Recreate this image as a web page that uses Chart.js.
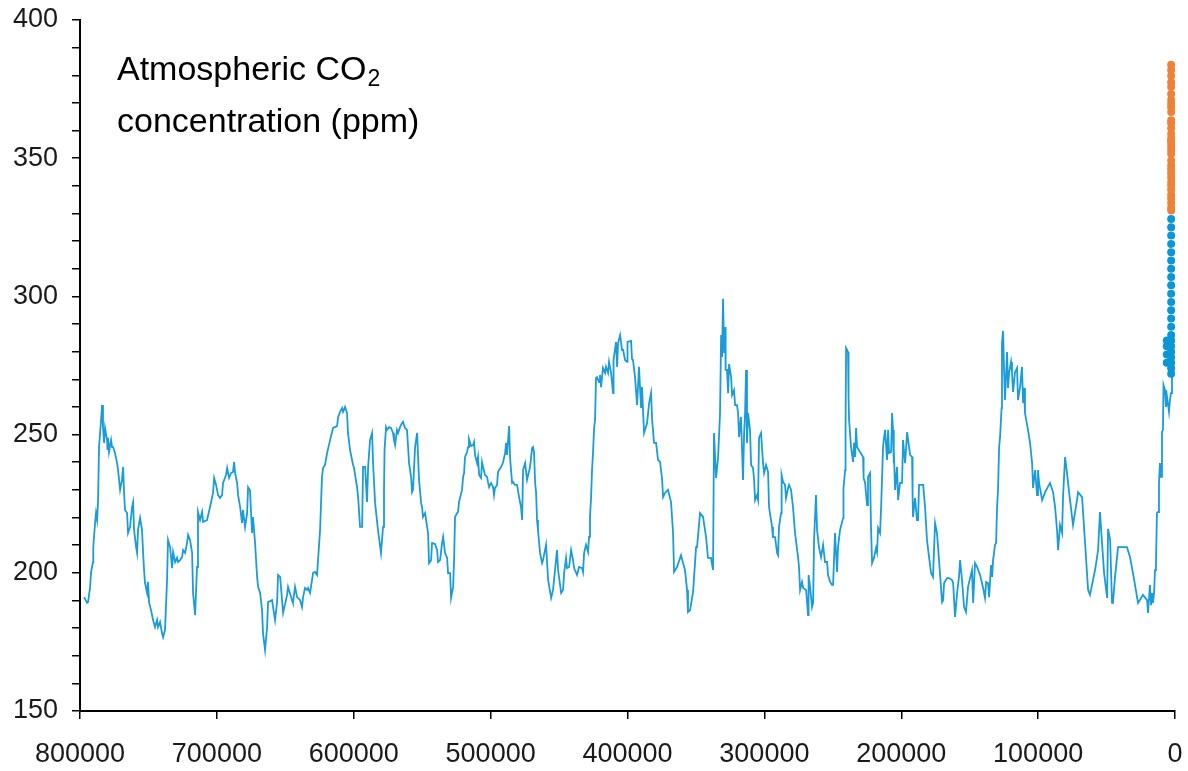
<!DOCTYPE html>
<html>
<head>
<meta charset="utf-8">
<script src="https://cdn.jsdelivr.net/npm/chart.js@4.4.1/dist/chart.umd.min.js"></script>
<style>
  body { margin: 0; background: #fff; }
  #wrap { position: relative; width: 1188px; height: 771px; }
  #title {
    position: absolute; left: 117px; top: 44px;
    font-family: "Liberation Sans", Arial, sans-serif;
    font-size: 34px; line-height: 48px; color: #000;
  }
  #title span { font-size: 23px; position: relative; top: 6px; margin-left: 1px; }
</style>
</head>
<body>
<div id="wrap">
  <canvas id="co2Chart" width="1188" height="771"></canvas>
  <div id="title">Atmospheric CO<span>2</span><br>concentration (ppm)</div>
</div>
<script>
// ice core record: age in thousand years before present, CO2 in ppm
var iceAgeKyr = [
  797.0,794.8,794.1,792.6,791.9,790.5,790.3,789.0,788.3,787.5,
  786.8,786.1,784.6,783.9,783.2,782.4,781.7,780.2,779.9,779.5,
  778.8,777.3,776.6,775.8,774.4,772.9,772.2,770.7,769.3,768.5,
  767.8,767.1,765.6,764.9,763.4,762.0,761.2,760.5,759.0,758.3,
  757.6,756.1,754.7,753.9,753.2,752.5,751.0,750.3,749.5,748.1,
  746.6,745.2,743.7,743.0,741.5,740.1,739.3,737.9,736.4,735.7,
  734.2,732.7,732.0,730.5,729.1,728.4,726.9,725.4,724.7,723.2,
  721.8,721.0,719.6,718.1,717.4,715.9,714.5,713.8,712.3,710.8,
  710.1,707.2,705.0,702.8,702.0,700.6,699.1,697.7,696.2,695.5,
  693.3,692.5,691.1,689.6,688.2,687.4,686.7,685.2,684.5,683.0,
  681.6,680.9,679.4,677.9,677.2,675.8,674.3,673.6,672.1,670.6,
  669.9,668.4,667.0,666.3,664.8,
  663.3,662.6,659.7,657.5,656.0,655.3,653.8,651.6,648.7,648.0,
  645.1,644.4,642.9,641.4,639.2,637.8,637.0,635.6,634.1,633.4,
  631.9,629.7,628.3,626.8,626.1,624.6,623.2,622.4,621.0,619.5,
  617.3,615.1,612.2,611.4,610.0,608.5,607.8,606.3,604.9,604.2,
  602.7,600.5,599.8,597.6,596.8,595.4,593.9,593.2,591.7,590.3,
  589.5,588.1,586.6,585.9,584.4,582.3,580.1,578.6,577.9,577.5,
  576.4,575.7,574.2,572.8,571.3,570.6,569.8,568.4,567.6,566.2,
  564.7,564.0,562.5,561.1,560.3,559.6,558.1,557.4,556.7,555.2,
  553.7,553.0,552.3,550.8,550.1,549.4,547.9,546.4,545.7,545.0,
  543.5,542.8,540.6,539.1,538.4,536.9,535.5,534.7,
  533.3,531.8,531.1,529.6,528.9,527.4,526.7,526.0,524.5,523.8,
  523.1,520.9,520.1,519.4,518.7,517.2,516.5,515.8,514.3,512.8,
  512.1,511.4,509.9,509.2,508.4,507.0,506.3,505.5,504.1,502.6,
  501.9,501.1,499.7,498.2,497.5,496.8,495.3,494.6,493.8,492.4,
  491.6,490.9,489.4,488.7,488.0,486.5,485.8,485.1,484.3,483.6,
  482.2,480.7,479.2,477.8,477.0,476.3,474.8,473.4,472.7,471.2,
  469.7,469.0,468.3,467.5,466.8,466.1,465.4,463.9,462.4,461.7,
  459.5,458.0,455.8,454.4,451.5,450.7,448.5,447.1,446.3,444.9,
  444.2,442.7,441.2,439.8,439.0,436.9,435.4,433.2,432.5,431.7,
  430.3,428.8,428.1,427.4,426.6,425.9,425.2,424.4,423.7,423.0,
  422.2,420.8,420.1,419.3,417.9,416.4,415.7,414.2,413.5,412.0,
  410.5,410.2,408.4,407.6,406.9,405.4,404.0,
  403.2,401.8,400.3,400.0,397.4,396.7,396.0,394.5,393.0,391.6,
  390.1,389.4,387.9,385.7,384.2,382.8,382.0,380.6,379.1,377.7,
  376.2,374.7,374.0,372.6,370.4,368.2,366.7,366.0,363.8,360.9,
  359.4,358.0,356.5,355.8,354.3,352.1,349.9,349.2,347.0,344.8,
  342.6,341.2,339.0,337.5,336.8,335.3,333.8,332.4,331.6,330.9,
  330.2,329.4,328.7,328.3,327.3,326.5,325.8,324.3,323.6,322.2,
  321.4,320.0,319.2,318.5,317.1,315.6,314.8,314.1,313.4,312.7,
  311.9,310.5,309.7,308.3,307.5,306.8,305.4,304.6,303.9,302.4,
  301.0,300.2,298.8,297.3,296.6,294.4,293.7,292.2,290.7,290.0,
  289.3,287.8,287.4,286.3,284.9,284.2,282.7,282.0,280.5,279.1,
  277.6,275.4,274.7,273.9,272.5,271.7,269.5,
  268.1,267.7,266.6,265.2,264.4,263.7,262.3,261.5,260.1,258.6,
  257.1,255.7,254.2,253.5,252.0,250.6,249.8,248.4,246.9,246.2,
  244.7,242.5,242.2,241.0,240.7,240.3,238.9,238.5,238.1,236.7,
  235.2,234.5,233.7,233.0,232.3,230.1,227.9,227.5,226.4,225.0,
  224.3,222.8,222.1,221.3,219.9,218.4,217.7,216.9,215.5,214.7,
  213.3,212.6,211.8,210.4,209.6,208.9,207.4,206.7,206.0,205.6,
  205.3,204.5,203.1,202.3,200.9,199.4,198.7,197.2,195.7,194.3,
  193.5,192.1,191.7,191.4,189.9,188.5,187.7,187.0,184.0,182.6,
  181.2,179.7,178.2,176.8,175.3,173.9,173.1,171.7,170.2,169.4,
  168.7,166.5,165.0,162.9,162.1,160.7,159.2,157.8,157.0,155.6,
  154.1,152.7,151.2,148.3,147.5,146.1,144.6,142.4,
  140.2,138.8,138.0,136.6,135.8,134.4,133.6,132.9,131.5,130.7,
  130.0,129.3,128.5,127.8,126.7,126.4,125.6,124.9,124.2,122.7,
  122.0,121.2,119.8,119.1,118.3,116.9,115.4,114.7,113.2,111.8,
  111.0,110.3,109.6,107.4,105.9,104.4,103.7,102.2,100.8,100.1,
  99.3,97.1,94.9,91.3,89.1,87.6,86.2,85.4,84.0,82.5,
  81.8,80.3,78.9,76.7,74.5,71.6,70.8,67.9,65.7,63.5,
  62.1,58.4,56.2,54.8,53.3,51.8,49.6,48.9,47.4,46.0,
  45.3,43.8,41.6,35.1,32.9,30.7,27.0,23.4,20.4,19.7,
  18.3,17.5,16.8,16.1,15.3,14.6,13.9,13.2,12.4,11.7,
  11.0,10.2,9.5,8.8,8.4,7.3,6.6,5.8,4.4,3.7,
  2.9,2.2
];
var iceCo2 = [
  191.2,189.1,189.4,194.9,200.3,203.9,209.3,218.0,221.6,219.1,
  226.3,245.5,255.3,260.7,252.7,247.0,252.4,248.0,244.4,248.8,
  243.7,248.0,245.5,245.5,243.3,239.7,237.2,230.0,233.6,238.3,
  228.9,222.7,221.6,214.4,216.6,223.8,225.6,215.5,209.3,207.2,
  215.5,219.8,215.5,207.2,201.0,196.3,192.7,196.7,189.1,186.5,
  182.9,180.4,182.9,180.4,182.2,178.2,176.7,179.3,197.4,211.9,
  209.3,201.7,207.5,203.9,205.4,203.9,204.6,205.7,208.2,207.2,
  210.8,213.7,211.9,207.2,192.7,184.7,202.1,222.0,219.1,222.0,
  218.4,219.1,223.8,228.9,234.3,231.8,228.1,227.1,228.1,232.5,
  235.4,237.9,234.3,236.1,236.5,240.1,236.1,232.5,228.1,223.8,
  218.0,222.7,216.6,221.6,231.0,229.9,214.4,220.2,210.8,198.5,
  194.9,192.7,186.5,178.2,172.1,
  180.4,189.4,190.1,182.9,189.4,199.2,198.5,185.5,192.0,194.9,
  190.1,189.1,194.9,191.2,190.1,187.6,191.2,194.5,193.8,194.5,
  192.7,200.0,200.3,199.2,204.6,215.5,234.7,237.9,239.0,243.3,
  248.0,252.4,253.1,256.4,258.2,259.6,258.2,260.0,257.8,250.6,
  244.4,239.0,237.9,231.0,227.4,216.6,216.6,238.3,238.3,225.6,
  238.3,248.0,250.6,239.7,225.2,215.5,207.2,216.6,230.0,244.4,
  252.7,251.7,252.7,252.4,250.6,248.0,246.2,251.7,250.6,252.7,
  254.2,254.6,252.4,251.7,245.5,239.7,234.7,229.2,230.0,245.5,
  250.6,241.9,233.6,225.2,223.8,220.2,221.6,216.6,214.4,203.5,
  204.6,210.8,210.4,208.2,203.9,204.6,210.8,213.0,
  207.2,205.4,199.9,199.9,190.9,194.9,204.6,220.2,221.6,222.0,
  225.6,230.0,234.7,236.1,241.9,243.7,245.5,248.4,245.9,246.2,
  247.3,242.6,239.7,241.9,235.4,234.3,240.1,238.3,235.4,234.7,
  232.8,231.0,232.5,231.0,228.1,230.7,231.8,236.5,237.2,238.3,
  239.0,240.1,243.3,247.0,242.6,253.1,241.9,237.2,232.5,232.8,
  231.8,231.8,227.4,223.8,219.1,237.2,239.7,233.6,233.6,238.3,
  245.2,245.5,243.7,232.5,229.2,219.1,215.5,207.2,203.5,204.6,
  210.1,197.4,190.9,193.8,208.2,201.0,192.7,193.8,199.9,205.4,
  201.7,202.1,208.2,204.6,201.7,199.2,202.1,201.7,200.3,207.2,
  210.1,207.5,213.0,220.2,227.4,237.2,243.3,252.4,255.3,270.5,
  270.8,269.0,271.6,267.2,274.1,272.3,274.5,272.3,276.3,272.3,
  265.0,277.0,283.5,274.5,283.1,286.0,280.6,
  280.6,277.0,276.3,283.5,283.9,277.3,277.0,270.8,260.7,274.5,
  259.6,267.2,250.6,254.2,261.4,265.0,255.3,247.0,247.0,240.8,
  240.1,233.6,227.4,228.9,230.0,225.6,214.4,200.3,202.1,206.4,
  203.5,201.0,193.8,185.8,186.5,193.1,209.3,209.3,221.6,220.2,
  212.9,205.4,205.4,201.0,250.6,234.3,241.9,257.8,286.0,278.1,
  299.1,279.5,288.9,273.4,273.4,265.0,275.5,270.8,264.3,266.1,
  260.7,260.7,257.8,249.1,256.4,233.6,250.6,257.8,273.4,247.0,
  257.8,251.7,239.0,237.9,233.6,226.3,228.1,226.3,248.8,250.6,
  239.7,236.1,239.0,236.5,223.8,216.6,212.9,212.9,207.2,206.4,
  216.6,221.6,235.4,232.8,231.8,227.1,230.7,231.8,230.0,223.8,
  214.4,205.7,202.1,193.8,196.7,194.5,193.8,
  184.7,199.2,194.9,187.6,189.1,211.9,228.1,215.5,209.3,205.7,
  210.1,203.9,203.9,199.2,196.7,195.6,195.6,214.4,200.3,209.3,
  215.5,219.8,230.7,237.2,251.7,281.3,279.9,263.6,255.3,245.5,
  240.1,247.0,241.9,252.4,245.5,243.7,241.9,234.3,232.5,224.5,
  234.7,236.1,216.6,203.5,205.4,209.0,207.5,216.2,214.4,223.8,
  245.5,248.8,251.7,240.8,251.7,243.3,243.7,257.8,251.7,239.7,
  244.4,230.0,238.3,226.3,232.5,232.5,248.0,239.7,250.9,245.5,
  242.6,241.9,227.1,220.2,227.1,219.1,219.1,231.8,231.8,223.8,
  211.9,205.7,199.9,198.5,218.0,214.4,209.3,199.9,189.4,190.1,
  196.3,198.1,198.1,197.4,196.3,184.0,192.7,198.5,204.6,197.4,
  187.6,185.8,194.9,201.0,189.1,203.5,202.1,199.2,
  194.5,190.9,196.7,196.3,191.2,202.8,198.5,204.6,210.1,210.8,
  223.8,230.0,245.5,249.1,259.6,283.1,287.5,273.4,262.5,279.9,
  266.9,272.3,276.3,272.6,265.4,272.6,274.1,262.5,267.2,274.5,
  261.4,266.9,257.8,251.7,247.0,239.7,230.7,237.2,228.1,237.2,
  232.5,226.3,229.2,232.5,229.2,223.8,215.5,208.2,217.3,214.4,
  227.4,241.9,236.1,226.3,217.3,226.3,229.2,227.4,210.8,193.8,
  192.0,201.0,208.2,222.0,210.8,199.9,190.9,215.9,211.9,189.1,
  189.4,198.5,209.3,209.3,205.7,199.9,189.1,192.0,190.1,185.5,
  195.6,188.3,192.7,189.1,192.7,201.0,203.5,221.6,222.0,232.5,
  239.7,234.7,251.0,251.7,268.0,266.1,260.0,263.6,258.2,262.5,
  265.0,270.8
];

// recent ice core dots (blue) and direct measurements (orange)
var recentAgeKyr = [6.0, 6.0, 6.0, 6.0,
  2.8,2.8,2.8,2.8,2.8,2.8,2.8,2.8,2.8,2.8,2.8,2.8,2.8,2.8,2.8,2.8,2.8,2.8,2.8,2.8,2.8,2.8];
var recentCo2 = [276, 279, 282, 284,
  272,274,276,278,280,282,284,286,289,292,295,298,301,304,307,310,313,316,319,322,325,328];
var directAgeKyr = 2.8;
var directCo2 = [331.1,332.1,333.8,335.4,336.8,338.7,340.1,341.4,343.0,344.6,346.0,
  347.4,349.2,351.6,353.1,354.4,355.6,356.4,357.1,358.8,360.8,362.6,363.7,
  366.7,368.4,369.6,371.1,373.2,375.8,377.5,379.8,381.9,383.8];

var xTicks = [0, 100000, 200000, 300000, 400000, 500000, 600000, 700000, 800000];
var yLabelled = [150, 200, 250, 300, 350, 400];

if (iceAgeKyr.length !== iceCo2.length) console.log('length mismatch', iceAgeKyr.length, iceCo2.length);

var icePoints = [];
for (var i = 0; i < iceAgeKyr.length; i++) {
  icePoints.push({ x: iceAgeKyr[i] * 1000, y: iceCo2[i] });
}
var recentPoints = [];
for (var j = 0; j < recentCo2.length; j++) {
  recentPoints.push({ x: recentAgeKyr[j] * 1000, y: recentCo2[j] });
}
var directPoints = [];
for (var k = 0; k < directCo2.length; k++) {
  directPoints.push({ x: directAgeKyr * 1000, y: directCo2[k] });
}

var tickFont = { family: '"Liberation Sans", Arial, sans-serif', size: 27 };

var config = {
  type: 'line',
  data: {
    datasets: [{
      data: directPoints,
      showLine: false,
      pointRadius: 4,
      pointBorderWidth: 0,
      backgroundColor: '#ef8238',
      order: 0
    }, {
      data: recentPoints,
      showLine: false,
      pointRadius: 4,
      pointBorderWidth: 0,
      backgroundColor: '#0a97d6',
      order: 1
    }, {
      data: icePoints,
      borderColor: '#1a9cd8',
      borderWidth: 1.8,
      pointRadius: 0,
      tension: 0,
      fill: false,
      order: 2
    }]
  },
  options: {
    responsive: false,
    animation: false,
    layout: { padding: { top: 20, right: 13, left: 0, bottom: 0 } },
    plugins: { legend: { display: false }, tooltip: { enabled: false } },
    scales: {
      x: {
        type: 'linear',
        reverse: true,
        min: 0,
        max: 800000,
        afterBuildTicks: function (axis) {
          axis.ticks = xTicks.map(function (v) { return { value: v }; });
        },
        ticks: {
          autoSkip: false,
          maxRotation: 0,
          padding: 19,
          color: '#1a1a1a',
          font: tickFont,
          callback: function (v) { return String(v); }
        },
        grid: { drawOnChartArea: false, drawTicks: true, tickLength: 8, color: '#000', lineWidth: 1.5 },
        border: { display: true, color: '#000', width: 2 },
        afterFit: function (scale) {
          scale.height = 60;
          scale.paddingLeft = 0;
          scale.paddingRight = 0;
        }
      },
      y: {
        min: 150,
        max: 400,
        ticks: {
          stepSize: 10,
          autoSkip: false,
          padding: 14,
          color: '#1a1a1a',
          font: tickFont,
          callback: function (v) { return yLabelled.indexOf(v) >= 0 ? String(v) : ''; }
        },
        grid: { drawOnChartArea: false, drawTicks: true, tickLength: 8, color: '#000', lineWidth: 1.5 },
        border: { display: true, color: '#000', width: 2 },
        afterFit: function (scale) {
          scale.width = 80;
          scale.paddingTop = 0;
          scale.paddingBottom = 0;
        }
      }
    }
  }
};

window.myChart = new Chart(document.getElementById('co2Chart'), config);
</script>
</body>
</html>
